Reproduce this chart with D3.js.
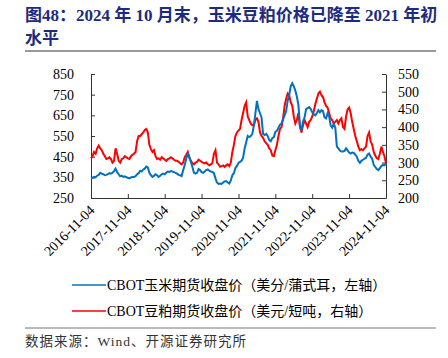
<!DOCTYPE html>
<html>
<head>
<meta charset="utf-8">
<script src="https://cdn.jsdelivr.net/npm/d3@7"></script>
<style>
    body { margin: 0; background: #fff; }
</style>
</head>
<body>
<svg id="chart" width="448" height="358"></svg>
<script>
// CBOT corn close, cents/bushel, roughly twice a month from 2016-11-04
var corn = [
    345, 348, 352, 350,
    358, 362, 372, 368, 365, 360, 362, 365, 370, 368, 372, 380, 392, 375, 365, 355, 358, 352, 355, 350, 348, 345, 350, 352,
    352, 355, 365, 370, 382, 378, 388, 392, 402, 398, 372, 360, 352, 358, 365, 360, 352, 358, 365, 368, 365, 372, 378, 376,
    380, 378, 375, 372, 368, 362, 360, 356, 385, 410, 440, 465, 445, 425, 400, 372, 368, 372, 390, 385, 375, 372, 378, 385,
    388, 382, 378, 376, 370, 345, 325, 318, 320, 318, 325, 330, 332, 325, 320, 335, 360, 370, 395, 405, 420, 425, 430, 445,
    490, 520, 550, 545, 550, 560, 600, 660, 720, 680, 660, 640, 560, 555, 560, 550, 530, 525, 540, 545, 570, 575, 590, 605,
    610, 630, 650, 670, 720, 750, 790, 805, 790, 770, 740, 700, 600, 580, 620, 640, 680, 685, 690, 680, 665, 655, 650, 660,
    675, 665, 675, 670, 640, 635, 660, 645, 600, 590, 610, 590, 500, 490, 480, 475, 475, 478, 490, 480, 470, 465, 470, 468,
    460, 450, 430, 420, 430, 435, 440, 445, 460, 465, 450, 440, 410, 400, 390, 385, 395, 405, 410, 408,
    418
];

// CBOT soybean meal close, USD/short ton, same dates
var meal = [
    312, 318, 330, 325,
    340, 348, 340, 335, 325, 318, 310, 312, 315, 310, 300, 305, 340, 325, 305, 300, 310, 312, 318, 315, 312, 310, 318, 322,
    325, 330, 360, 375, 375, 380, 385, 392, 395, 385, 350, 338, 330, 335, 318, 310, 312, 308, 315, 312, 308, 305, 310, 312,
    315, 312, 308, 305, 305, 302, 298, 295, 300, 315, 322, 330, 315, 305, 298, 295, 300, 302, 308, 305, 302, 300, 298, 300,
    295, 292, 295, 298, 325, 335, 300, 295, 288, 290, 292, 288, 292, 295, 290, 300, 330, 350, 375, 385, 390, 395, 420, 440,
    460, 470, 430, 420, 410, 405, 405, 420, 425, 415, 385, 375, 370, 360, 355, 350, 340, 335, 320, 318, 335, 350, 375, 395,
    400, 425, 460, 480, 495, 490, 470, 460, 430, 410, 420, 440, 400, 385, 405, 420, 410, 400, 415, 420, 430, 445, 465, 480,
    495, 500, 490, 485, 470, 460, 455, 440, 425, 420, 410, 415, 420, 410, 420, 425, 400, 395, 430, 450, 455, 440, 415, 395,
    375, 360, 345, 335, 338, 335, 340, 345, 375, 385, 360, 350, 330, 320, 312, 310, 325, 345, 330, 318,
    298
];

var startDate = "2016-11-04";
var endDate = "2024-11-04";

var leftTicks = [250, 350, 450, 550, 650, 750, 850];
var rightTicks = [200, 250, 300, 350, 400, 450, 500, 550];
var xTickLabels = ["2016-11-04", "2017-11-04", "2018-11-04", "2019-11-04", "2020-11-04",
                   "2021-11-04", "2022-11-04", "2023-11-04", "2024-11-04"];

var titleLines = ["图48：2024 年 10 月末，玉米豆粕价格已降至 2021 年初", "水平"];
var legendNames = ["CBOT玉米期货收盘价（美分/蒲式耳，左轴）", "CBOT豆粕期货收盘价（美元/短吨，右轴）"];
var sourceText = "数据来源：Wind、开源证券研究所";

var seriesColors = ["#0070C0", "#FF0000"];

var parseDate = d3.timeParse("%Y-%m-%d");
var t0 = parseDate(startDate), t1 = parseDate(endDate);
var dates = corn.map(function(d, i) {
    return new Date(+t0 + (t1 - t0) * i / (corn.length - 1));
});

var svg = d3.select("#chart");
var serif = "'Liberation Serif', 'Noto Sans CJK SC', serif";

// plot box
var plotLeft = 91, plotRight = 386, plotTop = 74, plotBottom = 198;

var x = d3.scaleTime().domain([t0, t1]).range([plotLeft, plotRight]);
var yL = d3.scaleLinear().domain([250, 850]).range([plotBottom, plotTop]);
var yR = d3.scaleLinear().domain([200, 550]).range([plotBottom, plotTop]);

// title
svg.selectAll(".title")
    .data(titleLines)
    .enter()
    .append("text")
    .attr("x", 25)
    .attr("y", function(d, i) { return 21 + i * 22.5; })
    .attr("font-family", serif)
    .attr("font-weight", "bold")
    .attr("font-size", "17px")
    .attr("fill", "#1c2b7f")
    .text(function(d) { return d; });

svg.append("line")
    .attr("x1", 25).attr("x2", 436)
    .attr("y1", 51).attr("y2", 51)
    .attr("stroke", "#777").attr("stroke-width", 1.5);

// axes
var axisL = svg.append("g")
    .attr("transform", "translate(" + plotLeft + ",0)")
    .call(d3.axisLeft(yL).tickValues(leftTicks).tickSizeInner(-4).tickSizeOuter(0).tickPadding(17));

var axisR = svg.append("g")
    .attr("transform", "translate(" + plotRight + ",0)")
    .call(d3.axisRight(yR).tickValues(rightTicks).tickSizeInner(-4).tickSizeOuter(0).tickPadding(12));

var axisB = svg.append("g")
    .attr("transform", "translate(0," + plotBottom + ")")
    .call(d3.axisBottom(x).tickValues(xTickLabels.map(parseDate))
        .tickSizeInner(-4).tickSizeOuter(0)
        .tickFormat(function(d, i) { return xTickLabels[i]; }));

axisB.selectAll("text")
    .attr("text-anchor", "end")
    .attr("dy", null)
    .attr("y", 0)
    .attr("transform", "translate(4,13) rotate(-45)");

[axisL, axisR, axisB].forEach(function(g) {
    g.selectAll("text")
        .attr("font-family", serif)
        .attr("font-size", "14px")
        .attr("fill", "#000");
    g.selectAll("line, path").attr("stroke", "#333");
});

// lines
var lineL = d3.line()
    .x(function(d, i) { return x(dates[i]); })
    .y(function(d) { return yL(d); });
var lineR = d3.line()
    .x(function(d, i) { return x(dates[i]); })
    .y(function(d) { return yR(d); });

svg.append("path")
    .datum(meal)
    .attr("d", lineR)
    .attr("fill", "none")
    .attr("stroke", seriesColors[1])
    .attr("stroke-width", 2);

svg.append("path")
    .datum(corn)
    .attr("d", lineL)
    .attr("fill", "none")
    .attr("stroke", seriesColors[0])
    .attr("stroke-width", 2);

// legend
var legend = svg.selectAll(".legend")
    .data(legendNames)
    .enter()
    .append("g")
    .attr("transform", function(d, i) { return "translate(0," + (285 + i * 26) + ")"; });

legend.append("line")
    .attr("x1", 72).attr("x2", 106)
    .attr("y1", 0).attr("y2", 0)
    .attr("stroke", function(d, i) { return seriesColors[i]; })
    .attr("stroke-width", 1.5);

legend.append("text")
    .attr("x", 107)
    .attr("y", 5)
    .attr("font-family", serif)
    .attr("font-size", "14px")
    .attr("fill", "#000")
    .text(function(d) { return d; });

svg.append("line")
    .attr("x1", 25).attr("x2", 436)
    .attr("y1", 328).attr("y2", 328)
    .attr("stroke", "#777").attr("stroke-width", 1);

svg.append("text")
    .attr("x", 25)
    .attr("y", 346)
    .attr("font-family", serif)
    .attr("font-size", "13.5px")
    .attr("letter-spacing", "1px")
    .attr("fill", "#333")
    .text(sourceText);
</script>
</body>
</html>
